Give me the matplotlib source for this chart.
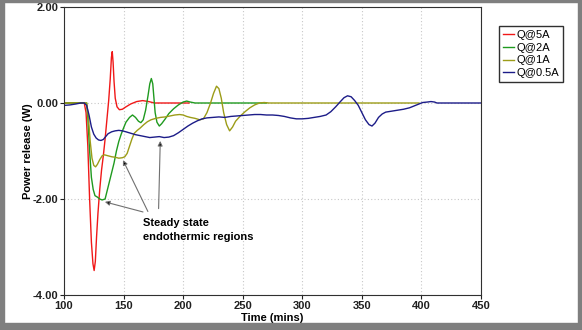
import matplotlib
matplotlib.use('Agg')
import matplotlib.pyplot as plt
from matplotlib.patches import Rectangle

plt.rcParams['font.family'] = ['Liberation Sans', 'DejaVu Sans']

# Q@5A
t_5a = [100, 117, 118.5, 120, 121.5, 123, 124.3, 125.3, 126.3, 127.3, 128.5, 130, 131.5, 133,
        134.5, 136, 137.5, 138.8, 139.8, 140.5, 141.2, 142, 143, 144.5, 146.5, 149, 152, 156,
        161, 166, 171, 176, 205]
q_5a = [0, 0, -0.2, -0.9, -2.0, -2.9, -3.35, -3.49, -3.3, -2.8, -2.3, -1.8, -1.4, -1.1,
        -0.75, -0.35, 0.05, 0.5, 0.95, 1.07, 0.85, 0.45, 0.1, -0.08, -0.14, -0.13, -0.08, -0.02,
        0.03, 0.05, 0.03, 0.0, 0.0]

# Q@2A
t_2a = [100, 119, 120, 121.5, 123, 124.5, 126, 128, 130, 132, 134.5, 136, 138, 140, 142, 144,
        146, 148, 150, 152, 155, 157.5, 160, 162.5, 164.5, 166.5, 168.5, 170.5, 172, 173.3,
        174.5, 175.5, 176.5, 178, 180, 182, 185, 188, 192, 196, 200, 203, 206, 210, 270]
q_2a = [0, 0, -0.3, -1.0, -1.55, -1.8, -1.93, -1.96, -2.0, -2.02, -2.0, -1.85, -1.65, -1.45,
        -1.25, -1.0, -0.8, -0.65, -0.52, -0.4, -0.3, -0.25, -0.3, -0.38, -0.41, -0.35, -0.15,
        0.15, 0.4, 0.51, 0.4, 0.1, -0.2, -0.4, -0.48, -0.43, -0.33, -0.22, -0.12, -0.04, 0.02,
        0.04, 0.02, 0.0, 0.0]

# Q@1A
t_1a = [100, 119, 120.5, 122, 123.5, 125, 126.5, 128, 130, 132, 134, 137, 140, 143, 146, 149,
        151, 153, 155, 157, 159, 161.5, 164, 167, 170, 173, 177, 181, 185, 189, 193, 197, 200,
        203, 206, 210, 214, 217, 220, 223, 225.5, 228, 230, 232, 234, 236.5, 239, 241.5, 244,
        248, 252, 256, 260, 264, 268, 272, 398]
q_1a = [0, 0, -0.3, -0.8, -1.15, -1.3, -1.33, -1.28, -1.18, -1.1, -1.08, -1.1, -1.12, -1.13,
        -1.15, -1.14, -1.12, -1.05, -0.9, -0.75, -0.63, -0.57, -0.52, -0.45, -0.39, -0.35,
        -0.32, -0.3, -0.29, -0.27, -0.25, -0.24, -0.25, -0.28, -0.3, -0.32, -0.35, -0.33, -0.2,
        0.0, 0.2, 0.35, 0.3, 0.1, -0.2, -0.45, -0.58, -0.5, -0.38, -0.27, -0.18, -0.1, -0.04,
        0.0, 0.01, 0.0, 0.0]

# Q@0.5A
t_05a = [100, 105, 110, 114, 117, 119, 121, 123, 125, 127, 129, 131, 133, 135, 137, 140, 143,
         146, 149, 152, 156, 160, 164, 168, 172, 176, 180, 184, 188, 192, 196, 200, 204, 208,
         212, 216, 220, 225, 230, 235, 240, 245, 250, 255, 260, 265, 270, 275, 280, 285, 290,
         295, 300, 305, 310, 315, 320, 324, 328, 332, 335, 338, 341, 344, 347, 350, 353, 356,
         358.5, 361, 364, 367, 370, 375, 380, 385, 390, 394, 398, 401, 405, 408, 411, 413, 450]
q_05a = [-0.05, -0.04, -0.02, 0.0, 0.0, -0.05, -0.25, -0.5, -0.65, -0.73, -0.77, -0.78, -0.76,
         -0.7, -0.64, -0.6, -0.58, -0.57, -0.58, -0.6, -0.63, -0.66, -0.68, -0.7, -0.72, -0.71,
         -0.7, -0.72, -0.71, -0.68, -0.62, -0.55, -0.48, -0.42, -0.37, -0.33, -0.31, -0.3,
         -0.29, -0.3, -0.28, -0.27, -0.26, -0.25, -0.24, -0.24, -0.25, -0.25, -0.26, -0.28,
         -0.31, -0.33, -0.33, -0.32, -0.3, -0.28, -0.25, -0.18, -0.08, 0.03, 0.11, 0.15, 0.13,
         0.05, -0.05, -0.2, -0.35, -0.45, -0.48, -0.42, -0.3, -0.23, -0.19, -0.17, -0.15, -0.13,
         -0.1, -0.06, -0.02, 0.01, 0.02, 0.03, 0.02, 0.0, 0.0]

labels = ['Q@5A', 'Q@2A', 'Q@1A', 'Q@0.5A']
colors = ['#f01818', '#1f9a1f', '#9c9c18', '#1c1c88']

x_ticks = [100, 150, 200, 250, 300, 350, 400, 450]
y_ticks = [2.0, 0.0, -2.0, -4.0]

# arrows: (head x, head y, tail x, tail y)
arrows = [(134.3, -2.06, 166.3, -2.27),
          (149.5, -1.19, 170.4, -2.26),
          (180.8, -0.79, 179.4, -2.2)]

W, H = 582, 330
fig = plt.figure(figsize=(W / 100, H / 100), dpi=100)
ax = fig.add_axes([64 / W, 1 - 295 / H, (481 - 64) / W, (295 - 7) / H])

series = [(t_5a, q_5a), (t_2a, q_2a), (t_1a, q_1a), (t_05a, q_05a)]
for (t, q), lab, c in zip(series, labels, colors):
    ax.plot(t, q, color=c, lw=1.0, label=lab)

ax.set_xlim(100, 450)
ax.set_ylim(-4, 2)
ax.set_xticks(x_ticks)
ax.set_yticks(y_ticks)
ax.set_yticklabels(['%0.2f' % v for v in y_ticks])
for lab in ax.get_xticklabels() + ax.get_yticklabels():
    lab.set_fontweight('bold')
ax.tick_params(direction='out', length=3, width=0.8, labelsize=8, pad=1, colors='#202020')
ax.grid(True, color='#c8c8c8', lw=0.8, linestyle=(0, (1, 2)))
for s in ax.spines.values():
    s.set_color('#303030')
    s.set_linewidth(0.8)

ax.set_xlabel('Time (mins)', fontsize=8, fontweight='bold', labelpad=2)
ax.set_ylabel('Power release (W)', fontsize=8, fontweight='bold')
ax.yaxis.set_label_coords(-0.075, 0.5)

for hx, hy, tx, ty in arrows:
    ax.annotate('', xy=(hx, hy), xytext=(tx, ty),
                arrowprops=dict(arrowstyle='-|>', fc='black', ec='#707070', lw=0.8,
                                mutation_scale=7, shrinkA=0, shrinkB=0))
ax.text(166.3, -2.40, 'Steady state\nendothermic regions', fontsize=8, fontweight='bold',
        ha='left', va='top', linespacing=1.45)

ax.legend(loc='upper left', bbox_to_anchor=(499 / W, 1 - 26 / H), bbox_transform=fig.transFigure,
          fontsize=8, handlelength=1.0, handletextpad=0.2, borderpad=0.35, labelspacing=0.25,
          borderaxespad=0, fancybox=False, framealpha=1, edgecolor='#303030')

# grey frame around the whole picture
grey = '#7f7f7f'
for x0, y0, w, h in [(0, 0, 4, H), (W - 4, 0, 4, H), (0, 0, W, 7), (0, H - 2, W, 2)]:
    fig.patches.append(Rectangle((x0 / W, y0 / H), w / W, h / H, transform=fig.transFigure,
                                 color=grey, zorder=10))

fig.savefig('out.png', dpi=100)
